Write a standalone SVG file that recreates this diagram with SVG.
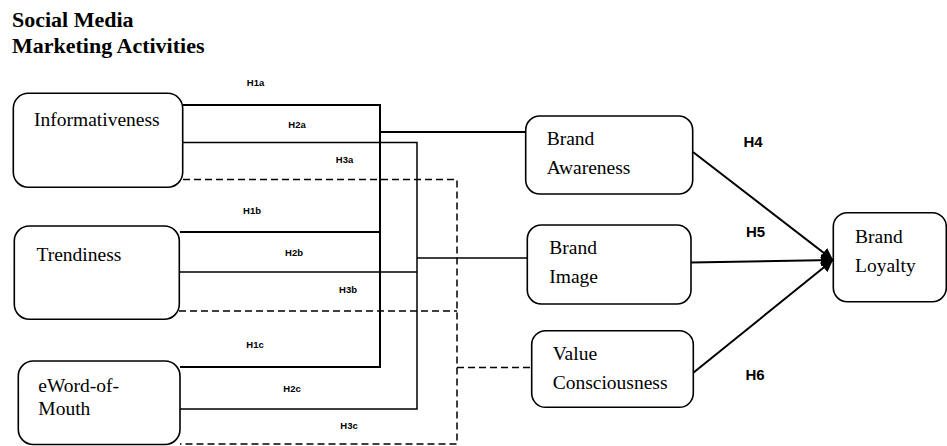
<svg xmlns="http://www.w3.org/2000/svg" width="947" height="446" viewBox="0 0 947 446">
<style>
.bg{fill:#fff}
.box{fill:#fff;stroke:#000;stroke-width:1.6}
.nt{font-family:"Liberation Serif","Times New Roman",serif;font-size:19.5px;fill:#000}
.tt{font-family:"Liberation Serif","Times New Roman",serif;font-size:22px;font-weight:bold;fill:#000}
.hl{font-family:"Liberation Sans",Arial,sans-serif;font-size:9.5px;font-weight:bold;fill:#000;text-anchor:middle}
.hb{font-family:"Liberation Sans",Arial,sans-serif;font-size:15px;font-weight:bold;fill:#000;text-anchor:middle}
.s1{fill:none;stroke:#000;stroke-width:2}
.s2{fill:none;stroke:#000;stroke-width:1.5}
.d3{fill:none;stroke:#000;stroke-width:1.5;stroke-dasharray:7 4}
.ar{fill:none;stroke:#000;stroke-width:2}
</style>
<defs>
<marker id="ah" markerUnits="userSpaceOnUse" markerWidth="14" markerHeight="12" refX="12" refY="6" orient="auto">
<path d="M0,0 L12,6 L0,12 Z" fill="#000"/>
</marker>
</defs>
<rect class="bg" x="0" y="0" width="947" height="446"/>
<g id="title">
<text class="tt" x="12" y="26.5">Social Media</text>
<text class="tt" x="12" y="53">Marketing Activities</text>
</g>
<g id="connectors">
<!-- H1 solid bus -->
<polyline class="s1" points="183,105 380,105 380,367 180,367"/>
<line class="s1" x1="180" y1="232" x2="380" y2="232"/>
<line class="s1" x1="380" y1="132" x2="526" y2="132"/>
<!-- H2 solid bus -->
<polyline class="s2" points="180,142.5 417,142.5 417,409 180,409"/>
<line class="s2" x1="179" y1="272" x2="417" y2="272"/>
<line class="s2" x1="417" y1="258" x2="527" y2="258"/>
<!-- H3 dashed bus -->
<polyline class="d3" points="183,179.5 457,179.5 457,444 180,444"/>
<line class="d3" x1="179" y1="311" x2="457" y2="311"/>
<line class="d3" x1="457" y1="367.5" x2="532" y2="367.5"/>
<!-- to Brand Loyalty -->
<line class="ar" x1="693" y1="152" x2="833" y2="260" marker-end="url(#ah)"/>
<line class="ar" x1="691" y1="262.5" x2="833" y2="260" marker-end="url(#ah)"/>
<line class="ar" x1="693" y1="373" x2="833" y2="260" marker-end="url(#ah)"/>
</g>
<g id="labels">
<text class="hl" x="255.5" y="86">H1a</text>
<text class="hl" x="297" y="127.5">H2a</text>
<text class="hl" x="344.5" y="162.5">H3a</text>
<text class="hl" x="252" y="214">H1b</text>
<text class="hl" x="294" y="256">H2b</text>
<text class="hl" x="348" y="293">H3b</text>
<text class="hl" x="255" y="347.5">H1c</text>
<text class="hl" x="292" y="391.5">H2c</text>
<text class="hl" x="349" y="429">H3c</text>
<text class="hb" x="753" y="147">H4</text>
<text class="hb" x="755.5" y="236.5">H5</text>
<text class="hb" x="755" y="380">H6</text>
</g>
<g id="informativeness">
<rect class="box" x="13.3" y="93.3" width="169.4" height="94" rx="15"/>
<text class="nt" x="34" y="125.5">Informativeness</text>
</g>
<g id="trendiness">
<rect class="box" x="14.3" y="226" width="165" height="93.3" rx="15"/>
<text class="nt" x="36.5" y="261">Trendiness</text>
</g>
<g id="eword">
<rect class="box" x="18.3" y="361" width="161.7" height="83.5" rx="15"/>
<text class="nt" x="38.3" y="391.5">eWord-of-</text>
<text class="nt" x="38.3" y="415">Mouth</text>
</g>
<g id="brand-awareness">
<rect class="box" x="525.7" y="116" width="167" height="78" rx="14"/>
<text class="nt" x="546.7" y="145">Brand</text>
<text class="nt" x="546.7" y="174">Awareness</text>
</g>
<g id="brand-image">
<rect class="box" x="527.3" y="225" width="163.7" height="79" rx="14"/>
<text class="nt" x="549.3" y="254.3">Brand</text>
<text class="nt" x="549.3" y="283.3">Image</text>
</g>
<g id="value-consciousness">
<rect class="box" x="531.7" y="330.7" width="161.6" height="76.6" rx="14"/>
<text class="nt" x="552.7" y="360">Value</text>
<text class="nt" x="552.7" y="389">Consciousness</text>
</g>
<g id="brand-loyalty">
<rect class="box" x="833.3" y="212.7" width="113" height="89" rx="14"/>
<text class="nt" x="855" y="243.3">Brand</text>
<text class="nt" x="855" y="271.7">Loyalty</text>
</g>
</svg>
